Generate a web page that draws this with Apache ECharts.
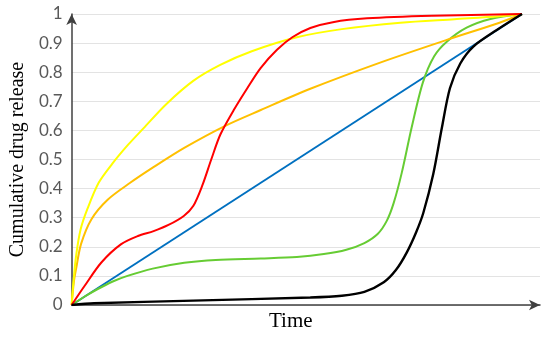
<!DOCTYPE html>
<html>
<head>
<meta charset="utf-8">
<title>Cumulative drug release</title>
<script src="https://cdn.jsdelivr.net/npm/echarts@6/dist/echarts.min.js"></script>
<style>
  html, body { margin: 0; padding: 0; background: #fff; }
  #myChart { width: 550px; height: 337px; }
</style>
</head>
<body>
<div id="myChart"></div>
<script>
// tick labels on the release axis
const yTicks = ['0', '0.1', '0.2', '0.3', '0.4', '0.5', '0.6', '0.7', '0.8', '0.9', '1']

// [time, release], time normalised to 0..1
const blueLine = [[0, 0], [1, 1]]
const yellowLine = [[0, 0], [0.004, 0.08], [0.01, 0.17], [0.02, 0.26], [0.035, 0.33], [0.06, 0.42],
  [0.09, 0.485], [0.125, 0.55], [0.16, 0.608], [0.21, 0.69], [0.27, 0.77], [0.33, 0.825], [0.4, 0.872],
  [0.5, 0.92], [0.6, 0.948], [0.73, 0.97], [0.85, 0.982], [0.95, 0.992], [1, 1]]
const orangeLine = [[0, 0], [0.005, 0.08], [0.01, 0.125], [0.021, 0.21], [0.044, 0.295], [0.08, 0.362],
  [0.13, 0.42], [0.18, 0.472], [0.25, 0.54], [0.34, 0.615], [0.42, 0.67], [0.53, 0.743], [0.685, 0.833],
  [0.833, 0.911], [0.95, 0.97], [1, 1]]
const redLine = [[0, 0], [0.029, 0.066], [0.066, 0.146], [0.11, 0.209], [0.147, 0.237], [0.182, 0.254],
  [0.215, 0.275], [0.249, 0.306], [0.27, 0.34], [0.29, 0.41], [0.31, 0.5], [0.33, 0.585], [0.36, 0.67],
  [0.39, 0.745], [0.42, 0.815], [0.456, 0.877], [0.49, 0.92], [0.53, 0.952], [0.58, 0.972], [0.656, 0.985],
  [0.8, 0.994], [1, 1]]
const greenLine = [[0, 0], [0.03, 0.03], [0.058, 0.055], [0.09, 0.08], [0.124, 0.1], [0.18, 0.125],
  [0.25, 0.145], [0.32, 0.155], [0.42, 0.16], [0.5, 0.165], [0.56, 0.175], [0.61, 0.19], [0.65, 0.213],
  [0.68, 0.245], [0.7, 0.29], [0.715, 0.35], [0.733, 0.454], [0.755, 0.61], [0.78, 0.765], [0.805, 0.855],
  [0.833, 0.905], [0.877, 0.953], [0.93, 0.983], [1, 1]]
const blackLine = [[0, 0], [0.05, 0.006], [0.27, 0.015], [0.53, 0.026], [0.6, 0.032], [0.65, 0.045],
  [0.693, 0.078], [0.72, 0.12], [0.744, 0.18], [0.765, 0.25], [0.781, 0.317], [0.803, 0.45], [0.822, 0.608],
  [0.84, 0.745], [0.863, 0.83], [0.892, 0.888], [0.944, 0.945], [1, 1]]

const myChart = echarts.init(document.getElementById('myChart'))

function curve(data, color, width) {
  return {
    type: 'line',
    data: data,
    smooth: 0.3,
    showSymbol: false,
    silent: true,
    lineStyle: { color: color, width: width || 2 }
  }
}

const option = {
  backgroundColor: '#fff',
  animation: false,
  grid: { left: 71, top: 14, right: 10, bottom: 31 },
  xAxis: {
    type: 'value',
    min: 0,
    max: 1.04,
    name: 'Time',
    nameLocation: 'middle',
    nameGap: 6,
    nameTextStyle: {
      fontFamily: 'Liberation Serif',
      fontSize: 21,
      color: '#000',
      verticalAlign: 'top',
      padding: [0, 30, 0, 0]
    },
    axisLine: {
      show: true,
      symbol: ['none', 'arrow'],
      symbolSize: [8, 11],
      lineStyle: { color: '#404040', width: 1.5 }
    },
    axisTick: { show: false },
    axisLabel: { show: false },
    splitLine: { show: false }
  },
  yAxis: {
    type: 'value',
    min: 0,
    max: 1,
    interval: 0.1,
    name: 'Cumulative drug release',
    nameLocation: 'middle',
    nameGap: 43,
    nameTextStyle: {
      fontFamily: 'Liberation Serif',
      fontSize: 20,
      color: '#000'
    },
    axisLine: {
      show: true,
      symbol: ['none', 'arrow'],
      symbolSize: [8, 11],
      lineStyle: { color: '#404040', width: 1.5 }
    },
    axisTick: { show: false },
    axisLabel: {
      margin: 9,
      color: '#595959',
      fontFamily: 'Lato',
      fontSize: 17,
      formatter: function (v) { return yTicks[Math.round(v * 10)] }
    },
    splitLine: {
      show: true,
      lineStyle: { color: '#e3e3e3', width: 1.2 }
    }
  },
  series: [
    curve(blueLine, '#0070c0'),
    curve(greenLine, '#66cc33'),
    curve(orangeLine, '#ffc000'),
    curve(yellowLine, '#ffff00'),
    curve(redLine, '#ff0000'),
    curve(blackLine, '#000000', 2.4)
  ]
}

myChart.setOption(option)
window.onresize = function () {
  myChart.resize()
}
</script>
</body>
</html>
